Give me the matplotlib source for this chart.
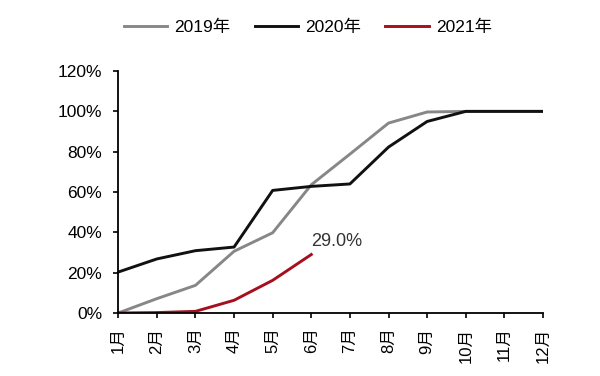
import matplotlib.pyplot as plt
import numpy as np

plt.rcParams['font.family'] = ['Liberation Sans', 'Noto Sans CJK SC', 'DejaVu Sans']

months = ['1月', '2月', '3月', '4月', '5月', '6月', '7月', '8月', '9月', '10月', '11月', '12月']
y2019 = [0.0, 7.1, 13.7, 30.6, 39.8, 63.6, 78.8, 94.2, 99.7, 100.0, 100.0, 100.0]
y2020 = [20.3, 26.8, 30.9, 32.7, 60.8, 62.8, 64.0, 82.3, 95.0, 100.0, 100.0, 100.0]
y2021 = [0.0, 0.2, 0.8, 6.3, 16.2, 29.0]
yticks = [0, 20, 40, 60, 80, 100, 120]

fig = plt.figure(figsize=(6, 3.76), dpi=100)
ax = fig.add_axes([0.197, 0.1676, 0.708, 0.6434])

x = np.arange(len(months))
ax.plot(x, y2019, color='#878787', lw=2.1, label='2019年')
ax.plot(x, y2020, color='#111111', lw=2.1, label='2020年')
ax.plot(x[:len(y2021)], y2021, color='#a50f1e', lw=2.1, label='2021年')

ax.annotate('29.0%', (x[len(y2021) - 1], y2021[-1]), xytext=(0, 6), textcoords='offset points',
            fontsize=13, color='#333333', ha='left', va='baseline')

ax.set_xlim(0, 11)
ax.set_ylim(0, 120)
ax.set_xticks(x)
ax.set_xticklabels(months, rotation=90, fontsize=12)
ax.set_yticks(yticks)
ax.set_yticklabels(['{}%'.format(v) for v in yticks], fontsize=12.5)
ax.tick_params(direction='out', length=3.5, width=1.2, colors='#000000')
ax.tick_params(axis='y', pad=8)
ax.tick_params(axis='x', pad=7)
for s in ['top', 'right']:
    ax.spines[s].set_visible(False)
for s in ['left', 'bottom']:
    ax.spines[s].set_linewidth(1.3)

fig.legend(loc='center', bbox_to_anchor=(0.513, 0.926), ncol=3, frameon=False, fontsize=12.5,
           handlelength=2.5, handletextpad=0.4, columnspacing=1.4)

plt.savefig('out.png', dpi=100)
